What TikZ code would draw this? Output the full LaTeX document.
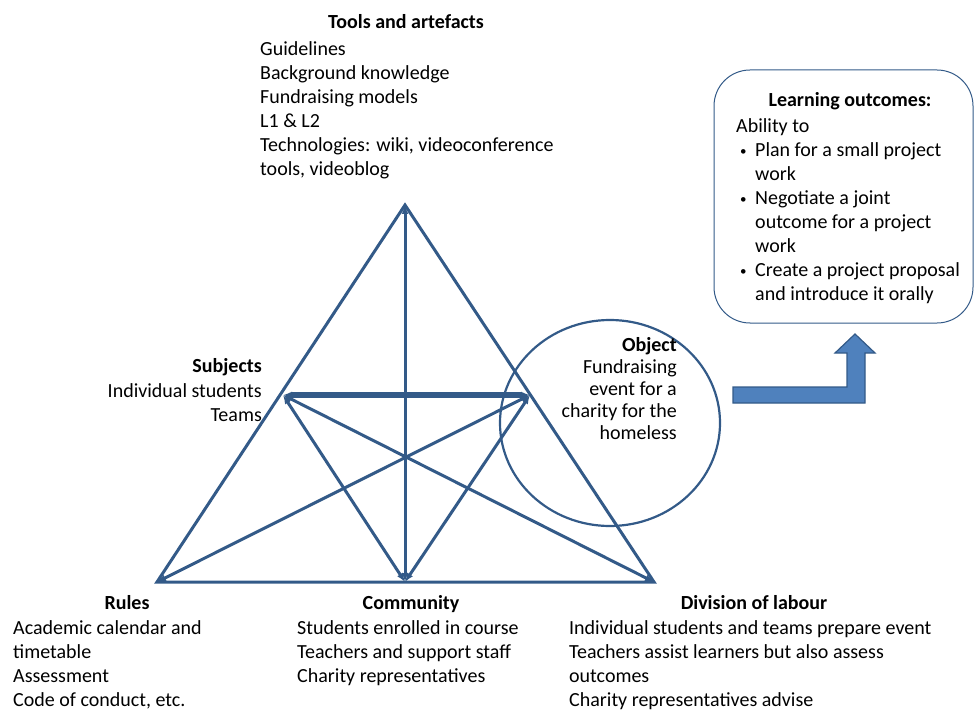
\documentclass[tikz,border=0pt]{standalone}
\usepackage{fontspec}
\setmainfont{Carlito}
\usetikzlibrary{arrows.meta}
\definecolor{linkblue}{HTML}{335A88}
\definecolor{arrowblue}{HTML}{4F81BD}

\newcommand{\smallbullet}{\hspace{4pt}\makebox[15pt][l]{\raisebox{1pt}{\fontsize{13}{13}\selectfont\textbullet}}}

\begin{document}
\begin{tikzpicture}[x=1pt,y=-1pt,
  every node/.style={font=\fontsize{20}{24}\selectfont, inner sep=0pt},
  heading/.style={font=\fontsize{20}{24}\selectfont\bfseries},
  listing/.style={align=left, anchor=north west},
  link/.style={draw=linkblue, line width=3pt,
    {Latex[length=9pt,width=7pt]}-{Latex[length=9pt,width=7pt]}}]
  \useasboundingbox (0,0) rectangle (974,711);

  % corners of the activity triangle
  \coordinate (tools) at (405,205);
  \coordinate (subj) at (283,395);
  \coordinate (obj) at (530,395);
  \coordinate (rules) at (157,582);
  \coordinate (comm) at (405,582);
  \coordinate (div) at (654,582);

  \draw [linkblue, line width=3pt] (tools) -- (rules) -- (div) -- cycle;
  \draw [link] (tools) -- (comm);
  \draw [link, line width=5.5pt] (subj) -- (obj);
  \draw [link] (subj) -- (comm);
  \draw [link] (subj) -- (div);
  \draw [link] (obj) -- (rules);
  \draw [link] (obj) -- (comm);

  \draw [linkblue, line width=2.2pt] (610,423) ellipse [x radius=110pt, y radius=103pt];

  % arrow towards the outcomes
  \draw [draw=linkblue, fill=arrowblue, line width=1.2pt]
    (733,387) -- (847,387) -- (847,353) -- (835,353) -- (855,334)
    -- (875,353) -- (865,353) -- (865,403) -- (733,403) -- cycle;
  \draw [linkblue, line width=1pt, rounded corners=36pt] (714,70) rectangle (973,323);

  \node [heading, anchor=base] (toolshead) at (406,29) {Tools and artefacts};
  \node [listing] (toolslist) at (260,41)
    {Guidelines\\Background knowledge\\Fundraising models\\L1 \& L2\\
     Technologies: wiki, videoconference\\tools, videoblog};

  \node [heading, anchor=base east] (subjhead) at (262,372) {Subjects};
  \node [align=right, anchor=north east] (subjlist) at (262,383)
    {Individual students\\Teams};

  \node [align=right, anchor=north east, font=\fontsize{20}{22}\selectfont]
    (objtext) at (677,337)
    {\textbf{Object}\\Fundraising\\event for a\\charity for the\\homeless};

  \node [heading, anchor=base] (outhead) at (850,107) {Learning outcomes:};
  \node [listing] (outlist) at (736,118)
    {Ability to\\
     \smallbullet Plan for a small project\\
     \hspace{19pt}work\\
     \smallbullet Negotiate a joint\\
     \hspace{19pt}outcome for a project\\
     \hspace{19pt}work\\
     \smallbullet Create a project proposal\\
     \hspace{19pt}and introduce it orally};

  \node [heading, anchor=base] (ruleshead) at (127,609) {Rules};
  \node [listing] (ruleslist) at (13,620)
    {Academic calendar and\\timetable\\Assessment\\Code of conduct, etc.};

  \node [heading, anchor=base] (commhead) at (411,609) {Community};
  \node [listing] (commlist) at (297,620)
    {Students enrolled in course\\Teachers and support staff\\Charity representatives};

  \node [heading, anchor=base] (divhead) at (754,609) {Division of labour};
  \node [listing] (divlist) at (569,620)
    {Individual students and teams prepare event\\
     Teachers assist learners but also assess\\outcomes\\
     Charity representatives advise};
\end{tikzpicture}
\end{document}
